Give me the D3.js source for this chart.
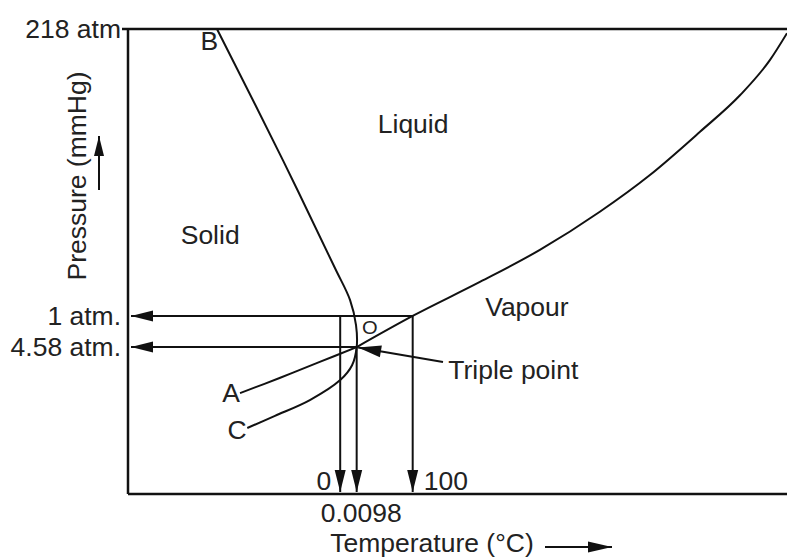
<!DOCTYPE html>
<html>
<head>
<meta charset="utf-8">
<script src="https://cdn.jsdelivr.net/npm/d3@7"></script>
<style>
  html, body { margin: 0; padding: 0; background: #fff; }
  svg { display: block; }
  text { font-family: "Liberation Sans", Arial, Helvetica, sans-serif; fill: #222; }
</style>
</head>
<body>
<svg id="chart" width="787" height="558"></svg>
<script>
// Phase diagram of water (schematic units: T and P on a 0–100 drawing scale)

// Pressure markers on the vertical axis
const pressureLabels = ["218 atm", "1 atm.", "4.58 atm."];
const pressureValues = [100, 38.3, 31.6];

// Temperature markers on the horizontal axis
const tempLabels = ["0", "0.0098", "100"];
const tempValues = [32.2, 34.7, 43.2];

// Triple point O
const triplePoint = [34.7, 31.6];

// Fusion curve B–O–C (solid/liquid, continuing below O)
const fusionT = [13.5, 23.5, 31.4, 33.7, 34.6, 34.7, 34.0, 32.2, 27.6, 22.3, 18.1];
const fusionP = [100, 71.8, 48.6, 41.7, 36.3, 31.6, 27.7, 24.5, 20.2, 16.8, 14.2];

// Sublimation curve O–A
const sublimT = [34.7, 29.1, 23.1, 17.0];
const sublimP = [31.6, 28.4, 25.0, 21.7];

// Vaporisation curve from O up to the critical region
const vapourT = [34.7, 43.2, 53.4, 62.5, 71.6, 79.2, 86.8, 92.9, 97.4, 100];
const vapourP = [31.6, 38.3, 45.6, 52.5, 60.7, 68.6, 77.9, 85.8, 93.3, 99.1];

// Region names and curve end letters, anchored in diagram units
const regionNames = ["Liquid", "Solid", "Vapour"];
const regionT = [37.9, 8.0, 54.2];
const regionP = [77.6, 53.8, 38.3];

const pointLetters = ["B", "A", "C", "O"];
const letterT = [11.0, 17.0, 18.0, 35.5];
const letterP = [95.5, 19.8, 11.8, 34.4];

const svg = d3.select("#chart");
const x = d3.scaleLinear().domain([0, 100]).range([128, 787]);
const y = d3.scaleLinear().domain([0, 100]).range([494, 29]);

const INK = "#111";
const STRETCH = 1.06;

function label(px, py, str, anchor, size, extra) {
  return svg.append("text")
    .attr("transform", `translate(${px},${py}) ${extra || ""} scale(${STRETCH},1)`)
    .attr("text-anchor", anchor)
    .attr("font-size", size)
    .text(str);
}

// Arrow: line from (x1,y1) to (x2,y2) with a filled head at the second point
function arrow(x1, y1, x2, y2, headLen = 22, headHalf = 5.5, width = 2) {
  svg.append("line")
    .attr("x1", x1).attr("y1", y1).attr("x2", x2).attr("y2", y2)
    .attr("stroke", INK).attr("stroke-width", width);
  const a = Math.atan2(y2 - y1, x2 - x1);
  const bx = x2 - headLen * Math.cos(a), by = y2 - headLen * Math.sin(a);
  const nx = -Math.sin(a) * headHalf, ny = Math.cos(a) * headHalf;
  svg.append("path")
    .attr("d", `M${x2},${y2}L${bx + nx},${by + ny}L${bx - nx},${by - ny}Z`)
    .attr("fill", INK);
}

// Frame: left axis, bottom axis and the top boundary at the critical pressure
svg.append("line").attr("x1", x(0)).attr("x2", x(0)).attr("y1", y(100)).attr("y2", y(0))
  .attr("stroke", INK).attr("stroke-width", 2.5);
svg.append("line").attr("x1", x(0)).attr("x2", x(100)).attr("y1", y(0)).attr("y2", y(0))
  .attr("stroke", INK).attr("stroke-width", 2.5);
svg.append("line").attr("x1", x(0) - 6).attr("x2", x(100)).attr("y1", y(100)).attr("y2", y(100))
  .attr("stroke", INK).attr("stroke-width", 2.5);

// Phase boundaries
const curveLine = (T, P, curve) => d3.line()
  .x((d, i) => x(T[i])).y((d, i) => y(P[i]))
  .curve(curve)(T);

svg.append("path").attr("d", curveLine(fusionT, fusionP, d3.curveCatmullRom.alpha(0.5)))
  .attr("fill", "none").attr("stroke", INK).attr("stroke-width", 2);
svg.append("path").attr("d", curveLine(sublimT, sublimP, d3.curveCatmullRom.alpha(0.5)))
  .attr("fill", "none").attr("stroke", INK).attr("stroke-width", 2);
svg.append("path").attr("d", curveLine(vapourT, vapourP, d3.curveMonotoneX))
  .attr("fill", "none").attr("stroke", INK).attr("stroke-width", 2);

// Reference lines: pressures back to the axis, temperatures down to the axis
const p1 = pressureValues[1], pT = pressureValues[2];
const t0 = tempValues[0], tT = tempValues[1], t100 = tempValues[2];

arrow(x(t100), y(p1), x(0) + 3, y(p1));
arrow(x(tT), y(pT), x(0) + 3, y(pT));
arrow(x(t0), y(p1), x(t0), y(0) - 2);
arrow(x(tT), y(pT), x(tT), y(0) - 2);
arrow(x(t100), y(p1), x(t100), y(0) - 2);

// Pointer to the triple point
arrow(x(47.8), y(28.4), x(triplePoint[0]) + 1.5, y(triplePoint[1]) + 0.5, 23, 6);
label(x(48.6), y(24.7), "Triple point", "start", 25);

// Pressure labels
pressureLabels.forEach((s, i) => {
  label(x(0) - 7, y(pressureValues[i]) + 9, s, "end", 25);
});

// Temperature labels
label(x(tempValues[0]) - 9, 490, tempLabels[0], "end", 25);
label(x(tempValues[1]) - 36, 522, tempLabels[1], "start", 25);
label(x(tempValues[2]) + 11, 490, tempLabels[2], "start", 25);

// Axis titles with direction arrows
label(x(0) - 42, 176, "Pressure (mmHg)", "middle", 25, "rotate(-90)");
arrow(99, 190, 99, 136, 20, 5);
label(432, 552, "Temperature (°C)", "middle", 25);
arrow(545, 547, 612, 547, 24, 5.5);

// Region names
regionNames.forEach((s, i) => label(x(regionT[i]), y(regionP[i]), s, "start", 25));

// Curve letters
pointLetters.forEach((s, i) => {
  label(x(letterT[i]), y(letterP[i]), s, i === 1 || i === 2 ? "end" : "start", s === "O" ? 19 : 25);
});
</script>
</body>
</html>
